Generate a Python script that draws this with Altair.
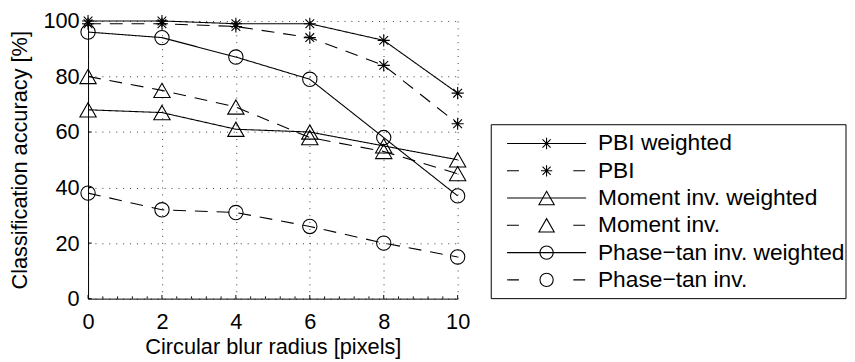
import altair as alt
import pandas as pd

# ---------------- data ----------------
radius = [0, 2, 4, 6, 8, 10]
pbi_weighted = [100, 100, 99, 99, 93, 74]
pbi = [99, 99, 98, 94, 84, 63]
moment_weighted = [68, 67, 61, 60, 55, 50]
moment = [80, 75, 69, 58, 53, 45]
phase_weighted = [96, 94, 87, 79, 58, 37]
phase = [38, 32, 31, 26, 20, 15]

series_names = ["PBI weighted", "PBI", "Moment inv. weighted", "Moment inv.",
                "Phase\u2212tan inv. weighted", "Phase\u2212tan inv."]
series_values = [pbi_weighted, pbi, moment_weighted, moment, phase_weighted, phase]

x_ticks = [0, 2, 4, 6, 8, 10]
y_ticks = [0, 20, 40, 60, 80, 100]
x_minor_ticks = [0.4, 0.8, 1.2, 1.6, 2.4, 2.8, 3.2, 3.6, 4.4, 4.8, 5.2, 5.6,
                 6.4, 6.8, 7.2, 7.6, 8.4, 8.8, 9.2, 9.6]

# ---------------- styles ----------------
ASTERISK = "M0,-1L0,1M-1,0L1,0M-0.72,-0.72L0.72,0.72M-0.72,0.72L0.72,-0.72"
TRIANGLE = "M0,-0.875L1,0.875L-1,0.875Z"
shape_range = [ASTERISK, ASTERISK, TRIANGLE, TRIANGLE, "circle", "circle"]
size_range = [150, 150, 272, 272, 210, 210]
dash_range = [[1, 0], [13, 9], [1, 0], [13, 9], [1, 0], [13, 9]]
legend_dash_range = [[1, 0], [12, 55], [1, 0], [12, 55], [1, 0], [12, 55]]

FONT = "Liberation Sans"
FS = 22
LEG_FS = 23
LW = 1.1

rows = []
for name, vals, sz in zip(series_names, series_values, size_range):
    for xv, yv in zip(radius, vals):
        rows.append({"series": name, "radius": xv, "acc": yv, "msize": sz})
df = pd.DataFrame(rows)

xscale = alt.Scale(domain=[0, 10], nice=False, zero=False)
yscale = alt.Scale(domain=[0, 100], nice=False, zero=False)

x_axis = alt.Axis(values=x_ticks, title="Circular blur radius [pixels]", grid=True,
                  ticks=False, tickSize=0, labelPadding=13, titlePadding=5,
                  domainColor="black", domainWidth=1, gridColor="black",
                  gridDash=[1, 6], gridOpacity=0.8, labelColor="black",
                  titleColor="black", labelFont=FONT, titleFont=FONT,
                  labelFontSize=FS, titleFontSize=FS, titleFontWeight="normal",
                  labelFlush=False, labelOverlap=False)
y_axis = alt.Axis(values=y_ticks, title="Classification accuracy [%]", grid=True,
                  ticks=False, tickSize=0, labelPadding=9, titlePadding=12,
                  domainColor="black", domainWidth=1, gridColor="black",
                  gridDash=[1, 6], gridOpacity=0.8, labelColor="black",
                  titleColor="black", labelFont=FONT, titleFont=FONT,
                  labelFontSize=FS, titleFontSize=FS, titleFontWeight="normal",
                  labelFlush=False, labelOverlap=False)

shape_scale = alt.Scale(domain=series_names, range=shape_range)
dash_scale = alt.Scale(domain=series_names, range=dash_range)

base = alt.Chart(df)
lines = base.mark_line(color="black", strokeWidth=LW).encode(
    x=alt.X("radius:Q", scale=xscale, axis=x_axis),
    y=alt.Y("acc:Q", scale=yscale, axis=y_axis),
    strokeDash=alt.StrokeDash("series:N", scale=dash_scale, legend=None),
    detail="series:N",
)
points = base.mark_point(filled=False, color="black", strokeWidth=LW, opacity=1).encode(
    x=alt.X("radius:Q", scale=xscale),
    y=alt.Y("acc:Q", scale=yscale),
    shape=alt.Shape("series:N", scale=shape_scale, legend=None),
    size=alt.Size("msize:Q", scale=None, legend=None),
)

# inward ticks
major_x = pd.DataFrame({"radius": x_ticks, "acc": [0] * len(x_ticks), "acc2": [1.3] * len(x_ticks)})
minor_x = pd.DataFrame({"radius": x_minor_ticks, "acc": [0] * len(x_minor_ticks),
                        "acc2": [0.8] * len(x_minor_ticks)})
major_y = pd.DataFrame({"acc": y_ticks, "radius": [0] * len(y_ticks), "radius2": [0.1] * len(y_ticks)})

tick_x_major = alt.Chart(major_x).mark_rule(color="black", strokeWidth=1).encode(
    x=alt.X("radius:Q", scale=xscale), y=alt.Y("acc:Q", scale=yscale), y2="acc2:Q")
tick_x_minor = alt.Chart(minor_x).mark_rule(color="black", strokeWidth=1).encode(
    x=alt.X("radius:Q", scale=xscale), y=alt.Y("acc:Q", scale=yscale), y2="acc2:Q")
tick_y_major = alt.Chart(major_y).mark_rule(color="black", strokeWidth=1).encode(
    y=alt.Y("acc:Q", scale=yscale), x=alt.X("radius:Q", scale=xscale), x2="radius2:Q")

main = alt.layer(lines, points, tick_x_major, tick_x_minor, tick_y_major).properties(
    width=374, height=281)

# ---------------- legend panel ----------------
LEG_W = 359
LEG_H = 281
leg_df = pd.DataFrame({
    "series": series_names,
    "row": list(range(len(series_names))),
    "sx": [16] * 6, "sx2": [96] * 6, "mx": [56] * 6, "tx": [108] * 6,
    "msize": [130, 130, 240, 240, 180, 180],
})
box_df = pd.DataFrame({"bx": [0], "bx2": [LEG_W], "by": [-0.688], "by2": [5.688]})

lx = alt.Scale(domain=[0, LEG_W], nice=False, zero=False)
ly = alt.Scale(domain=[-4.493, 5.688], nice=False, zero=False, reverse=True)

box = alt.Chart(box_df).mark_rect(fill="white", stroke="black", strokeWidth=1).encode(
    x=alt.X("bx:Q", scale=lx, axis=None), x2="bx2:Q",
    y=alt.Y("by:Q", scale=ly, axis=None), y2="by2:Q")
leg_lines = alt.Chart(leg_df).mark_rule(color="black", strokeWidth=LW).encode(
    x=alt.X("sx:Q", scale=lx, axis=None), x2="sx2:Q",
    y=alt.Y("row:Q", scale=ly, axis=None),
    strokeDash=alt.StrokeDash("series:N", scale=alt.Scale(domain=series_names, range=legend_dash_range),
                              legend=None))
leg_marks = alt.Chart(leg_df).mark_point(filled=False, color="black", strokeWidth=LW, opacity=1).encode(
    x=alt.X("mx:Q", scale=lx, axis=None),
    y=alt.Y("row:Q", scale=ly, axis=None),
    shape=alt.Shape("series:N", scale=shape_scale, legend=None),
    size=alt.Size("msize:Q", scale=None, legend=None))
leg_text = alt.Chart(leg_df).mark_text(align="left", baseline="middle", font=FONT,
                                       fontSize=LEG_FS, color="black").encode(
    x=alt.X("tx:Q", scale=lx, axis=None),
    y=alt.Y("row:Q", scale=ly, axis=None),
    text="series:N")

legend_panel = alt.layer(box, leg_lines, leg_marks, leg_text).properties(width=LEG_W, height=LEG_H)

chart = alt.hconcat(main, legend_panel, spacing=20).resolve_scale(
    x="independent", y="independent", shape="independent", strokeDash="independent"
).properties(padding={"left": 0, "top": 0, "right": 0, "bottom": 0}).configure(
    font=FONT).configure_view(strokeWidth=0)

chart.save("out.html", embed_options={"renderer": "svg", "actions": False})
